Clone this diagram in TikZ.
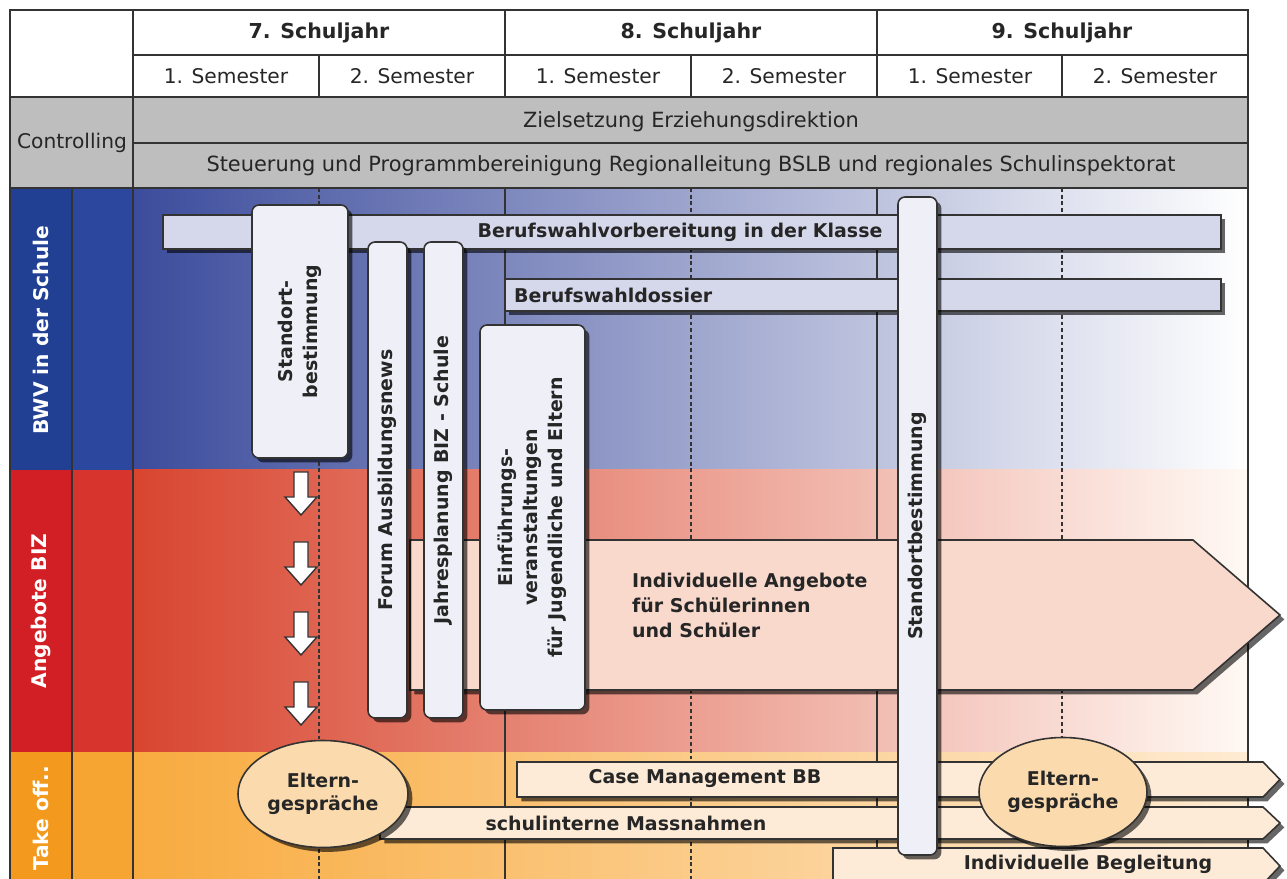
\documentclass[tikz,border=0pt]{standalone}
\usepackage{fontspec}
\setmainfont{DejaVu Sans}
\usetikzlibrary{positioning,fit,shapes.geometric,shadows}

\definecolor{gridline}{HTML}{333333}
\definecolor{ctrlgray}{HTML}{BEBEBE}
\definecolor{textdark}{HTML}{262626}
\definecolor{bwvdark}{HTML}{213F93}
\definecolor{bwvmid}{HTML}{2B479E}
\definecolor{bwvleft}{HTML}{3C4C9C}
\definecolor{bwvcenter}{HTML}{7A80BD}
\definecolor{bizdark}{HTML}{D21F26}
\definecolor{bizmid}{HTML}{D6342C}
\definecolor{bizleft}{HTML}{D8452F}
\definecolor{bizcenter}{HTML}{E78C72}
\definecolor{bizright}{HTML}{FFF9F4}
\definecolor{takedark}{HTML}{F39A1E}
\definecolor{takemid}{HTML}{F6A532}
\definecolor{takeleft}{HTML}{F8AB3F}
\definecolor{takecenter}{HTML}{FBC47C}
\definecolor{takeright}{HTML}{FEEBD2}
\definecolor{barfill}{HTML}{D5D7EA}
\definecolor{boxfill}{HTML}{EFEFF7}
\definecolor{angfill}{HTML}{F8D9CC}
\definecolor{offfill}{HTML}{FDEBD8}
\definecolor{elternfill}{HTML}{FBDBAE}

\begin{document}
\begin{tikzpicture}[x=0.2mm, y=-0.2mm,
    grid/.style={draw=gridline, line width=0.8pt},
    semline/.style={draw=gridline, line width=0.8pt, dash pattern=on 2.2pt off 1.6pt},
    yearhead/.style={font=\fontsize{11.7}{14}\selectfont\bfseries, text=textdark},
    semhead/.style={font=\fontsize{11.5}{14}\selectfont, text=textdark},
    ctrl/.style={font=\fontsize{11.9}{14}\selectfont, text=textdark},
    bandlbl/.style={font=\fontsize{11.5}{14}\selectfont\bfseries, text=white, rotate=90},
    lbl/.style={font=\fontsize{10.8}{14.2}\selectfont\bfseries, text=textdark},
    vlbl/.style={lbl, rotate=90, align=center},
    shadowed/.style={drop shadow={shadow xshift=2.5pt, shadow yshift=-2.5pt, opacity=0.6, fill=black}},
    bar/.style={draw=gridline, line width=0.9pt, fill=barfill, inner sep=0pt, shadowed},
    vbox/.style={draw=gridline, line width=0.9pt, fill=boxfill, rounded corners=4pt, inner sep=0pt, shadowed},
    flow/.style={draw=gridline, line width=0.9pt, fill=offfill, shadowed},
    angebot/.style={draw=gridline, line width=0.9pt, fill=angfill, shadowed},
    hollow/.style={draw=gridline, line width=0.8pt, fill=white},
    eltern/.style={ellipse, draw=gridline, line width=0.9pt, fill=elternfill, inner sep=0pt, align=center,
      font=\fontsize{10.8}{13}\selectfont\bfseries, text=textdark, shadowed}
  ]
  \useasboundingbox (0,0) rectangle (1287,879);
  \fill[white] (0,0) rectangle (1287,879);

  % colour bands
  \fill[bwvdark] (10,188) rectangle (72,470);
  \fill[bwvmid] (72,188) rectangle (133,470);
  \shade[left color=bwvleft, middle color=bwvcenter, right color=white] (133,188) rectangle (1248,470);
  \fill[bizdark] (10,470) rectangle (72,752);
  \fill[bizmid] (72,470) rectangle (133,752);
  \shade[left color=bizleft, middle color=bizcenter, right color=bizright] (133,470) rectangle (1248,752);
  \fill[takedark] (10,752) rectangle (72,879);
  \fill[takemid] (72,752) rectangle (133,879);
  \shade[left color=takeleft, middle color=takecenter, right color=takeright] (133,752) rectangle (1248,879);

  % table head and grid
  \fill[white] (10,10) rectangle (1248,97);
  \fill[ctrlgray] (10,97) rectangle (1248,188);
  \draw[grid] (10,879) -- (10,10) -- (1248,10) -- (1248,879);
  \draw[grid] (133,10) -- (133,879);
  \draw[grid] (72,188) -- (72,879);
  \draw[grid] (133,55) -- (1248,55);
  \draw[grid] (10,97) -- (1248,97);
  \draw[grid] (133,143) -- (1248,143);
  \draw[grid] (10,188) -- (1248,188);
  \foreach \x in {505,877} {
    \draw[grid] (\x,10) -- (\x,97);
    \draw[grid] (\x,188) -- (\x,879);
  }
  \foreach \x in {319,691,1062} {
    \draw[grid] (\x,55) -- (\x,97);
    \draw[semline] (\x,188) -- (\x,879);
  }

  \foreach \x/\j in {319/7,691/8,1062/9}
    \node[yearhead] (jahr\j) at (\x,33) {\j. Schuljahr};
  \foreach \x/\s [count=\i] in {226/1,412/2,598/1,784/2,970/1,1155/2}
    \node[semhead] (sem\i) at (\x,76) {\s. Semester};

  \node[ctrl, font=\fontsize{11.5}{14}\selectfont] (controlling) at (72,143) {Controlling};
  \node[ctrl] (ziel) at (691,122) {Zielsetzung Erziehungsdirektion};
  \node[ctrl] (steuerung) at (691,166) {Steuerung und Programmbereinigung Regionalleitung BSLB und regionales Schulinspektorat};

  \node[bandlbl] (bwv) at (41,330) {BWV in der Schule};
  \node[bandlbl] (biz) at (41,611) {Angebote BIZ};
  \node[bandlbl] (takeoff) at (41,818) {Take off..};

  % horizontal bars
  \node[bar, fit={(163,215) (1221,249)}] (klasse) {};
  \node[bar, fit={(505,279) (1221,311)}] (dossier) {};
  \node[lbl] (klassetxt) at (680,232) {Berufswahlvorbereitung in der Klasse};
  \node[lbl, anchor=west] (dossiertxt) at (508,295) {Berufswahldossier};

  % arrows
  \draw[angebot] (410,540) -- (1193,540) -- (1280,615) -- (1193,690) -- (410,690) -- cycle;
  \draw[flow] (517,762) -- (1263,762) -- (1280,779.5) -- (1263,797) -- (517,797) -- cycle;
  \draw[flow] (380,807) -- (1263,807) -- (1280,823) -- (1263,839) -- (380,839) -- cycle;
  \draw[flow] (833,848) -- (1263,848) -- (1280,866) -- (1263,884) -- (833,884) -- cycle;
  \node[lbl, anchor=west, align=left] (angebottxt) at (626,605) {Individuelle Angebote\\für Schülerinnen\\und Schüler};
  \node[lbl] (casetxt) at (705,779) {Case Management BB};
  \node[lbl] (massntxt) at (626,823) {schulinterne Massnahmen};
  \node[lbl] (begltxt) at (1088,864) {Individuelle Begleitung};

  % vertical boxes
  \node[vbox, fit={(252,205) (348,458)}] (standort) {};
  \node[vbox, fit={(368,242) (407,718)}] (forum) {};
  \node[vbox, fit={(424,242) (463,718)}] (jahresplan) {};
  \node[vbox, fit={(480,325) (585,710)}] (einf) {};
  \node[vbox, fit={(898,197) (937,855)}] (standort2) {};
  \node[vlbl] (standorttxt) at (standort) {Standort-\\bestimmung};
  \node[vlbl] (forumtxt) at (forum) {Forum Ausbildungsnews};
  \node[vlbl] (jahresplantxt) at (jahresplan) {Jahresplanung BIZ - Schule};
  \node[vlbl] (einftxt) at (einf) {Einführungs-\\veranstaltungen\\für Jugendliche und Eltern};
  \node[vlbl] (standort2txt) at (standort2) {Standortbestimmung};

  % hollow arrows below Standortbestimmung
  \foreach \y in {472,542,612,682}
    \draw[hollow] (294,\y) -- (308,\y) -- (308,{\y+25}) -- (317,{\y+25}) -- (301,{\y+43})
      -- (285,{\y+25}) -- (294,{\y+25}) -- cycle;

  % Elterngespraeche
  \node[eltern, minimum width=34mm, minimum height=21.4mm] (eltern1) at (323,794) {Eltern-\\gespräche};
  \node[eltern, minimum width=33.6mm, minimum height=21.8mm] (eltern2) at (1063,792) {Eltern-\\gespräche};
\end{tikzpicture}
\end{document}
